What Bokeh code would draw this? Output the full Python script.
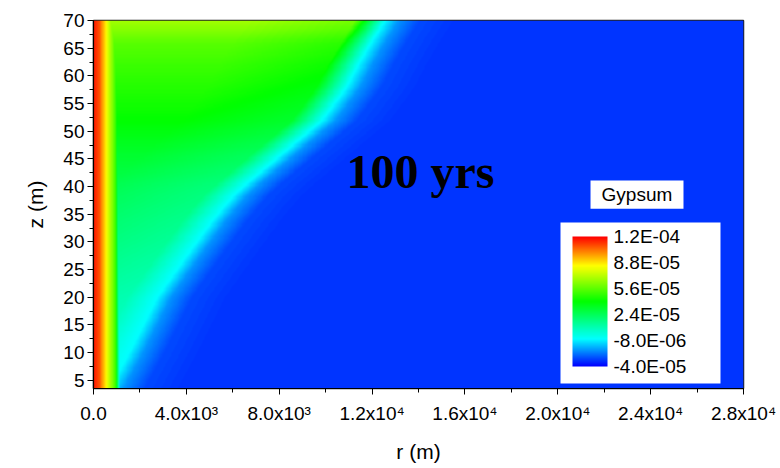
import numpy as np
from bokeh.plotting import figure
from bokeh.models import LinearColorMapper, ColorBar, FixedTicker, Range1d, CustomJSTickFormatter
from bokeh.core.properties import value
from bokeh.embed import file_html
from bokeh.resources import INLINE

# ---- colour scale (Gypsum) ----
cb_ticks = [-4.0e-5, -8.0e-6, 2.4e-5, 5.6e-5, 8.8e-5, 1.2e-4]
cb_labels = ["-4.0E-05", "-8.0E-06", "2.4E-05", "5.6E-05", "8.8E-05", "1.2E-04"]
cmap_values = [-4.0e-5, -6.0e-6, 4.0e-5, 8.4e-5, 1.2e-4]
cmap_colors = [(0, 0, 255), (0, 255, 255), (0, 255, 0), (255, 255, 0), (255, 0, 0)]

# ---- axes ----
x_ticks = [0, 4000, 8000, 12000, 16000, 20000, 24000, 28000]
x_tick_labels = ["0.0", "4.0x10³", "8.0x10³", "1.2x10⁴", "1.6x10⁴", "2.0x10⁴", "2.4x10⁴", "2.8x10⁴"]
y_ticks = [5, 10, 15, 20, 25, 30, 35, 40, 45, 50, 55, 60, 65, 70]

# ---- field readings (r in m, z in m, value of Gypsum) ----
z_nodes = [3.5, 10, 20, 28, 34, 38, 40, 43, 46, 49, 52, 58, 62, 66, 70]
front_r = [700, 1550, 2750, 4100, 5150, 5950, 6450, 7300, 8150, 9000, 9850, 10900, 11400, 11950, 12550]
plateau = [0.0, 3.0e-6, 8.0e-6, 1.2e-5, 1.5e-5, 1.7e-5, 1.8e-5, 2.1e-5, 2.4e-5, 2.8e-5, 3.2e-5, 3.8e-5, 4.2e-5, 4.7e-5, 6.0e-5]
plateau_gain = 8.0e-6          # extra value far behind the front (towards the well)
strip_r = [0, 250, 450, 700, 950, 1200]
strip_vals = [1.17e-4, 1.08e-4, 9.2e-5, 7.0e-5, 5.0e-5, -4.0e-5]
front_offset = [-6000, -1300, 0, 600, 1500, 3200]
front_tail = [-6.0e-6, -2.0e-5, -3.0e-5, -3.3e-5]

R_MAX, Z_MIN, Z_MAX = 28000, 3.5, 70

# palette
pal = []
for t in np.linspace(cmap_values[0], cmap_values[-1], 256):
    rgb = [int(round(np.interp(t, cmap_values, [c[k] for c in cmap_colors]))) for k in range(3)]
    pal.append("#%02x%02x%02x" % tuple(rgb))
mapper = LinearColorMapper(palette=pal, low=cmap_values[0], high=cmap_values[-1])

# field on a fine grid from the readings
r = np.linspace(0, R_MAX, 1400)
z = np.linspace(Z_MIN, Z_MAX, 340)
F = np.interp(z, z_nodes, front_r)
P = np.interp(z, z_nodes, plateau)
strip = np.interp(r, strip_r, strip_vals)
field = np.empty((len(z), len(r)))
for i in range(len(z)):
    body = np.interp(r - F[i], front_offset, [P[i] + plateau_gain, P[i]] + front_tail)
    field[i] = np.maximum(strip, body)

p = figure(width=780, height=468, output_backend="svg", toolbar_location=None,
           x_range=Range1d(0, R_MAX), y_range=Range1d(Z_MIN, Z_MAX),
           min_border_left=93, min_border_right=37, min_border_top=20, min_border_bottom=80,
           background_fill_color="white", border_fill_color="white")
p.image(image=[field], x=0, y=Z_MIN, dw=R_MAX, dh=Z_MAX - Z_MIN, color_mapper=mapper)

p.grid.visible = False
p.outline_line_color = "#222222"
p.outline_line_width = 1.5

font = "Liberation Sans"
for ax in (p.xaxis[0], p.yaxis[0]):
    ax.axis_line_color = "black"
    ax.axis_line_width = 1.2
    ax.major_tick_line_color = "black"
    ax.minor_tick_line_color = "black"
    ax.major_tick_in = 0
    ax.minor_tick_in = 0
    ax.major_tick_out = 6
    ax.minor_tick_out = 4
    ax.major_label_text_font = font
    ax.major_label_text_font_size = "19px"
    ax.major_label_text_color = "black"
    ax.axis_label_text_font = font
    ax.axis_label_text_font_size = "21px"
    ax.axis_label_text_font_style = "normal"
    ax.axis_label_text_color = "black"

p.xaxis.ticker = FixedTicker(ticks=x_ticks, minor_ticks=list(range(0, 28001, 2000)))
p.xaxis.major_label_overrides = {t: l for t, l in zip(x_ticks, x_tick_labels)}
p.xaxis.major_label_standoff = 8
p.xaxis.axis_label = "r (m)"
p.xaxis.axis_label_standoff = 13

p.yaxis.ticker = FixedTicker(ticks=y_ticks, minor_ticks=list(np.arange(2.5, 70.1, 2.5)))
p.yaxis.major_label_standoff = 3
p.yaxis.axis_label = "z (m)"
p.yaxis.axis_label_standoff = 13

# white legend boxes
p.quad(left=[20117], right=[27009], bottom=[4.4], top=[33.5], fill_color="white", line_color=None)
p.quad(left=[21410], right=[25415], bottom=[36.0], top=[41.1], fill_color="white", line_color=None)
p.text(x=[23410], y=[38.55], text=["Gypsum"], text_font=value(font), text_font_size="19px",
       text_align="center", text_baseline="middle", text_color="black")
p.text(x=[14086], y=[42.8], text=["100 yrs"], text_font=value("Liberation Serif"),
       text_font_size="48px", text_font_style="bold",
       text_align="center", text_baseline="middle", text_color="black")

cb_formatter = CustomJSTickFormatter(args=dict(tv=cb_ticks, tl=cb_labels), code="""
    let best = 0;
    for (let k = 0; k < tv.length; k++) {
        if (Math.abs(tv[k] - tick) < Math.abs(tv[best] - tick)) best = k;
    }
    return tl[best];
""")
cb = ColorBar(color_mapper=mapper, ticker=FixedTicker(ticks=cb_ticks), formatter=cb_formatter,
              location=(479, 22), width=35, height=130, padding=0,
              background_fill_alpha=0, border_line_color=None, bar_line_color=None,
              major_tick_line_color=None, minor_tick_line_color=None,
              label_standoff=6, major_label_text_font=font,
              major_label_text_font_size="19px", major_label_text_color="black")
p.add_layout(cb, "center")

open("out.html", "w").write(file_html(p, INLINE))
